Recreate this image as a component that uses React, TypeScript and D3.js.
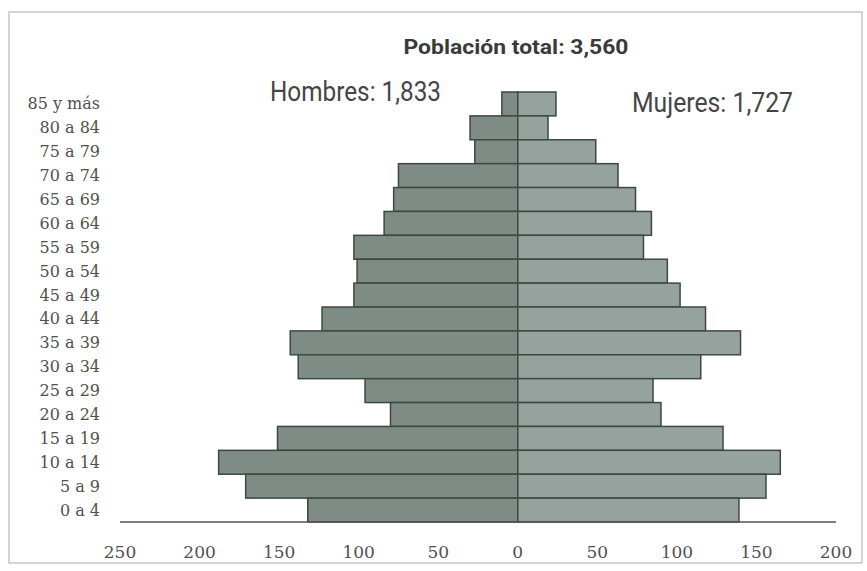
import React from "react";
import * as d3 from "d3";

const ageGroups = [
  "85 y más", "80 a 84", "75 a 79", "70 a 74", "65 a 69", "60 a 64",
  "55 a 59", "50 a 54", "45 a 49", "40 a 44", "35 a 39", "30 a 34",
  "25 a 29", "20 a 24", "15 a 19", "10 a 14", "5 a 9", "0 a 4",
];
const hombres = [10, 30, 27, 75, 78, 84, 103, 101, 103, 123, 143, 138, 96, 80, 151, 188, 171, 132];
const mujeres = [24, 19, 49, 63, 74, 84, 79, 94, 102, 118, 140, 115, 85, 90, 129, 165, 156, 139];
const tickValues = [-250, -200, -150, -100, -50, 0, 50, 100, 150, 200];
const title = "Población total: 3,560";
const hombresLabel = "Hombres: 1,833";
const mujeresLabel = "Mujeres: 1,727";

const W = 867;
const H = 571;

export default function App() {
  const x = d3.scaleLinear().domain([-250, 200]).range([120, 836]);
  const y = d3.scaleBand<string>().domain(ageGroups).range([92, 522]).padding(0);
  const bw = y.bandwidth();
  const sans = "'Liberation Sans Narrow', 'Roboto', 'Liberation Sans', sans-serif";
  const serif = "'DejaVu Serif', 'Liberation Serif', serif";
  const textColor = "#505050";
  return (
    <svg width={W} height={H} style={{ position: "absolute", left: 0, top: 0, background: "#fff" }}>
      <rect x={9} y={12} width={853} height={551} fill="#fff" stroke="#b8b8b8" strokeWidth={1.2} />
      <text x={516} y={54} textAnchor="middle" fontFamily={sans} fontWeight="bold" fontSize={20}
        fill="#3a3a3a" textLength={225} lengthAdjust="spacingAndGlyphs">{title}</text>
      <text x={270} y={101} fontFamily={sans} fontSize={27} fill="#454545"
        textLength={171} lengthAdjust="spacingAndGlyphs">{hombresLabel}</text>
      <text x={632} y={112} fontFamily={sans} fontSize={27} fill="#454545"
        textLength={161} lengthAdjust="spacingAndGlyphs">{mujeresLabel}</text>
      {ageGroups.map((g, i) => (
        <g key={g}>
          <rect x={x(-hombres[i])} y={y(g)!} width={x(0) - x(-hombres[i])} height={bw}
            fill="#7f8c86" stroke="#3c4843" strokeWidth={1.5} />
          <rect x={x(0)} y={y(g)!} width={x(mujeres[i]) - x(0)} height={bw}
            fill="#95a29d" stroke="#3c4843" strokeWidth={1.5} />
          <text x={100} y={y(g)! + bw / 2} textAnchor="end" dominantBaseline="central"
            fontFamily={serif} fontSize={16} fill={textColor}>{g}</text>
        </g>
      ))}
      <line x1={x(-250)} x2={x(200)} y1={522} y2={522} stroke="#555" strokeWidth={1.3} />
      {tickValues.map((t) => (
        <text key={t} x={x(t)} y={552} textAnchor="middle" dominantBaseline="central"
          fontFamily={serif} fontSize={17} fill={textColor}>{Math.abs(t)}</text>
      ))}
    </svg>
  );
}
